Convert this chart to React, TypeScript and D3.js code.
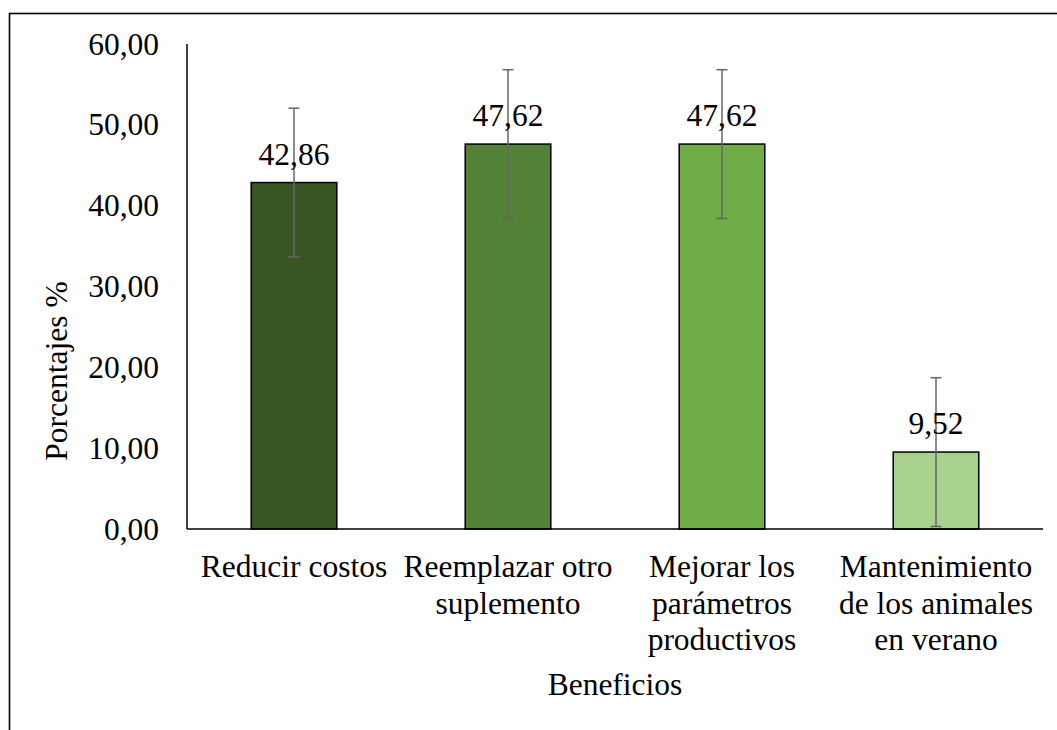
import React from "react";
import * as d3 from "d3";

const categories: string[][] = [
  ["Reducir costos"],
  ["Reemplazar otro", "suplemento"],
  ["Mejorar los", "parámetros", "productivos"],
  ["Mantenimiento", "de los animales", "en verano"],
];
const values: number[] = [42.86, 47.62, 47.62, 9.52];
const errors: number[] = [9.2, 9.2, 9.2, 9.2];
const colors: string[] = ["#375623", "#538135", "#70ad47", "#a9d18e"];
const yTicks: number[] = [0, 10, 20, 30, 40, 50, 60];
const yTitle = "Porcentajes %";
const xTitle = "Beneficios";

const W = 1057;
const H = 730;
const plot = { left: 187, right: 1043, top: 44, bottom: 529 };
const FONT = '"Liberation Serif", "Times New Roman", Times, serif';
const txt: React.CSSProperties = { fontFamily: FONT, fontSize: "31.5px" };

export default function App() {
  const ids = categories.map((_, i) => String(i));
  const x = d3
    .scaleBand<string>()
    .domain(ids)
    .range([plot.left, plot.right])
    .paddingInner(0.6)
    .paddingOuter(0.3);
  const y = d3.scaleLinear().domain([0, 60]).range([plot.bottom, plot.top]);
  const fmt = (v: number) => v.toFixed(2).replace(".", ",");
  const capW = 11;

  return (
    <svg
      width={W}
      height={H}
      style={{ position: "absolute", left: 0, top: 0, background: "#fff", fontFamily: FONT }}
    >
      <rect x={9.5} y={13.5} width={1200} height={900} fill="none" stroke="#000" strokeWidth={1.6} />
      {values.map((v, i) => (
        <rect
          key={"b" + i}
          x={x(ids[i])!}
          y={y(v)}
          width={x.bandwidth()}
          height={y(0) - y(v)}
          fill={colors[i]}
          stroke="#000"
          strokeWidth={1.5}
        />
      ))}
      <line x1={plot.left} x2={plot.left} y1={plot.top} y2={plot.bottom} stroke="#000" strokeWidth={1.5} />
      <line x1={plot.left} x2={plot.right} y1={plot.bottom} y2={plot.bottom} stroke="#000" strokeWidth={1.5} />
      {values.map((v, i) => {
        const cx = x(ids[i])! + x.bandwidth() / 2;
        const t = y(v + errors[i]);
        const b = y(Math.max(0, v - errors[i]));
        return (
          <g key={"e" + i} stroke="#666" strokeWidth={1.5}>
            <line x1={cx} x2={cx} y1={t} y2={b} />
            <line x1={cx - capW / 2} x2={cx + capW / 2} y1={t} y2={t} />
            <line x1={cx - capW / 2} x2={cx + capW / 2} y1={b} y2={b} />
          </g>
        );
      })}
      {values.map((v, i) => (
        <text
          key={"v" + i}
          x={x(ids[i])! + x.bandwidth() / 2}
          y={y(v) - 18}
          textAnchor="middle"
          style={txt}
          fill="#000"
        >
          {fmt(v)}
        </text>
      ))}
      {yTicks.map((t) => (
        <text key={"t" + t} x={159} y={y(t) + 10.5} textAnchor="end" style={txt} fill="#000">
          {fmt(t)}
        </text>
      ))}
      {categories.map((lines, i) => (
        <text
          key={"c" + i}
          x={x(ids[i])! + x.bandwidth() / 2}
          y={577}
          textAnchor="middle"
          style={txt}
          fill="#000"
        >
          {lines.map((l, j) => (
            <tspan key={j} x={x(ids[i])! + x.bandwidth() / 2} y={577 + j * 36.5}>
              {l}
            </tspan>
          ))}
        </text>
      ))}
      <text x={(plot.left + plot.right) / 2} y={695} textAnchor="middle" style={txt} fill="#000">
        {xTitle}
      </text>
      <text transform={`translate(67,371) rotate(-90)`} textAnchor="middle" style={txt} fill="#000">
        {yTitle}
      </text>
    </svg>
  );
}
